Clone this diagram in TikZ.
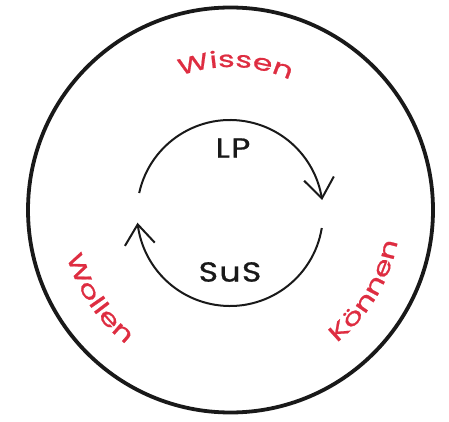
\documentclass[tikz,border=0pt]{standalone}
\usepackage{fontspec}
\setmainfont{Poppins}
\newfontfamily\wordfont[FakeStretch=1.42, FakeBold=0.9]{Poppins}
\newfontfamily\cycfont[FakeStretch=1.2, FakeBold=0.9, LetterSpace=5]{Poppins}
\usetikzlibrary{arrows.meta,bending,decorations.text}
\definecolor{wred}{RGB}{222,45,65}
\definecolor{ink}{RGB}{25,25,25}
\newcommand{\redfont}{\color{wred}\wordfont\fontsize{22.5}{22.5}\selectfont}
\tikzset{
  outerring/.style={draw=ink, line width=3.8pt},
  cycarc/.style={draw=ink, line width=2pt},
  cyctip/.style={-{Straight Barb[length=20pt,width=30pt,line width=2pt,flex]}},
  cyclabel/.style={font=\cycfont\fontsize{27.5}{27.5}\selectfont, text=ink, inner sep=0pt},
}
\begin{document}
\begin{tikzpicture}[x=1pt,y=1pt]
\useasboundingbox (0,0) rectangle (449,421);
\coordinate (c) at (230.5,211);
\coordinate (m) at (230,208);
% outer ring
\draw[outerring] (c) circle[radius=202.5pt];
% inner cycle
\draw[cycarc,cyctip] ([shift={(167.6:93pt)}]m) arc[start angle=167.6, end angle=8, radius=93pt];
\draw[cycarc,cyctip] ([shift={(-9.3:93pt)}]m) arc[start angle=-9.3, end angle=-174, radius=93pt];
\node[cyclabel] (lp) at (233,273) {LP};
\node[cyclabel] (sus) at (230,149) {SuS};
% red words along the ring
\path[decorate, decoration={text along path, text align=center, text={|\redfont|Wissen}}]
  ([shift={(130:143pt)}]c) arc[start angle=130, end angle=46, radius=143pt];
\path[decorate, decoration={text along path, text align=center, text={|\redfont|Wollen}}]
  ([shift={(172:170pt)}]c) arc[start angle=172, end angle=256, radius=170pt];
\path[decorate, decoration={text along path, text align=center, text={|\redfont|Können}}]
  ([shift={(-73:170pt)}]c) arc[start angle=-73, end angle=11, radius=170pt];
\end{tikzpicture}
\end{document}
